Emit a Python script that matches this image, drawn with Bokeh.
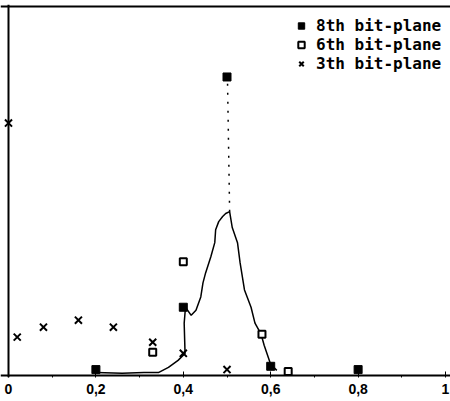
from bokeh.plotting import figure
from bokeh.models import (Range1d, FixedTicker, Legend, LegendItem, Span)
from bokeh.embed import file_html
from bokeh.resources import INLINE

# ---- data ----
x8 = [0.2, 0.4, 0.5, 0.6, 0.8]
y8 = [0.016, 0.185, 0.809, 0.025, 0.016]

x6 = [0.33, 0.4, 0.58, 0.64]
y6 = [0.063, 0.308, 0.112, 0.011]

x3 = [0.0, 0.02, 0.08, 0.16, 0.24, 0.33, 0.4, 0.5]
y3 = [0.684, 0.104, 0.131, 0.150, 0.131, 0.090, 0.060, 0.016]

curve_x = [0.20, 0.26, 0.31, 0.343, 0.366, 0.388, 0.404, 0.402, 0.405, 0.418,
           0.429, 0.440, 0.445, 0.451, 0.463, 0.472, 0.474, 0.481, 0.490, 0.497,
           0.506, 0.512, 0.524, 0.530, 0.540, 0.555, 0.564, 0.578, 0.585, 0.600,
           0.614]
curve_y = [0.008, 0.006, 0.008, 0.008, 0.022, 0.041, 0.060, 0.142, 0.185, 0.163,
           0.177, 0.213, 0.251, 0.278, 0.322, 0.360, 0.395, 0.417, 0.431, 0.439,
           0.444, 0.401, 0.360, 0.305, 0.232, 0.185, 0.142, 0.112, 0.082, 0.030,
           0.014]

peak_x = [0.506, 0.501]
peak_y = [0.444, 0.809]

tick_vals = [0, 0.2, 0.4, 0.6, 0.8, 1.0]
tick_labels = ["0", "0,2", "0,4", "0,6", "0,8", "1"]
minor_vals = [0.1, 0.3, 0.5, 0.7, 0.9]
legend_labels = ["8th bit-plane", "6th bit-plane", "3th bit-plane"]

p = figure(width=450, height=401, output_backend="svg", toolbar_location=None,
           x_range=Range1d(-0.0183, 1.0114), y_range=Range1d(-0.0054, 1.0054),
           min_border_left=0, min_border_right=0, min_border_top=4,
           min_border_bottom=24, background_fill_color=None,
           border_fill_color=None)
p.outline_line_color = None
p.grid.visible = False
p.yaxis.visible = False

# x axis
xa = p.xaxis[0]
xa.ticker = FixedTicker(ticks=tick_vals, minor_ticks=minor_vals)
xa.major_label_overrides = {v: l for v, l in zip(tick_vals, tick_labels)}
xa.major_label_text_font = "Liberation Sans"
xa.major_label_text_font_style = "bold"
xa.major_label_text_font_size = "14px"
xa.major_label_text_color = "black"
xa.major_label_standoff = 6
xa.major_tick_in = 6
xa.major_tick_out = 0
xa.minor_tick_in = 2
xa.minor_tick_out = 0
xa.axis_line_color = None
xa.major_tick_line_color = "black"
xa.major_tick_line_width = 1
xa.minor_tick_line_color = "black"

# frame lines: bottom axis, left axis, top border
p.add_layout(Span(location=0, dimension="width", line_color="black", line_width=2))
p.add_layout(Span(location=0, dimension="height", line_color="black", line_width=2))
p.add_layout(Span(location=1.0, dimension="width", line_color="black", line_width=2))

# curve
p.line(curve_x, curve_y, line_color="black", line_width=1.5)
p.line(peak_x, peak_y, line_color="black", line_width=1.5, line_dash="2 7")

r8 = p.scatter(x8, y8, marker="square", size=8, fill_color="black",
               line_color="black", line_width=1)
r6 = p.scatter(x6, y6, marker="square", size=7, fill_color="white",
               line_color="black", line_width=2)
r3 = p.scatter(x3, y3, marker="x", size=10, line_color="black", line_width=2)

legend = Legend(items=[LegendItem(label=legend_labels[0], renderers=[r8]),
                       LegendItem(label=legend_labels[1], renderers=[r6]),
                       LegendItem(label=legend_labels[2], renderers=[r3])],
                location=(293, 304), border_line_alpha=0,
                background_fill_alpha=0, padding=0, margin=0, spacing=0,
                glyph_width=16, glyph_height=19, label_height=19,
                label_standoff=7,
                label_text_font="DejaVu Sans Mono", label_text_font_style="bold",
                label_text_font_size="16px", label_text_color="black")
p.add_layout(legend)

open("out.html", "w").write(file_html(p, INLINE))
